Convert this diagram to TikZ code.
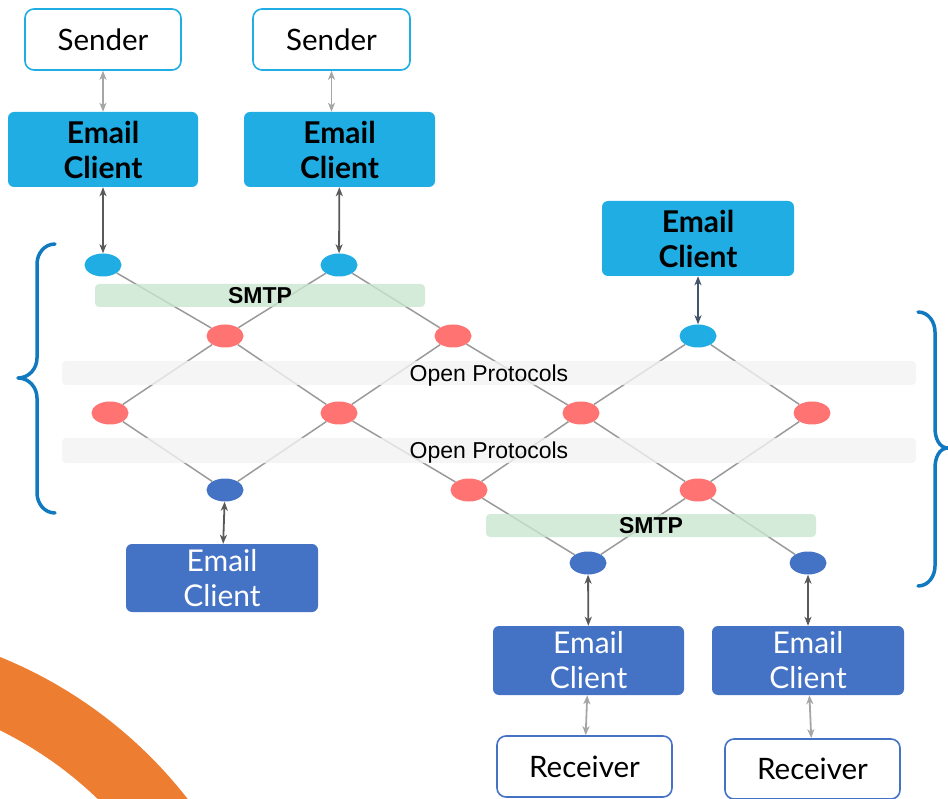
\documentclass[tikz,border=0pt]{standalone}
\usepackage{fontspec}
\setmainfont{Lato}
\newfontfamily\arialfont{Liberation Sans}
\usetikzlibrary{arrows.meta,shapes.geometric}

\definecolor{skyblue}{HTML}{1FADE4}
\definecolor{royal}{HTML}{4472C4}
\definecolor{salmon}{HTML}{FF7373}
\definecolor{mintband}{HTML}{C8E6CE}
\definecolor{greyband}{HTML}{F2F2F2}
\definecolor{edgegrey}{HTML}{9A9A9A}
\definecolor{darklink}{HTML}{595959}
\definecolor{slatelink}{HTML}{44546A}
\definecolor{lightlink}{HTML}{A6A6A6}
\definecolor{bracecol}{HTML}{1079BF}
\definecolor{orangeband}{HTML}{ED7D31}

\pgfdeclarelayer{bg}
\pgfdeclarelayer{mid}
\pgfsetlayers{bg,mid,main}

\tikzset{
  hop/.style={ellipse, minimum width=37pt, minimum height=23pt, inner sep=0pt, draw=none},
  hopsky/.style={hop, fill=skyblue},
  hopred/.style={hop, fill=salmon},
  hoproyal/.style={hop, fill=royal},
  enditem/.style={rounded corners=9pt, fill=white, line width=1.6pt, inner sep=0pt,
    font=\fontsize{29.5}{34}\selectfont},
  clientsky/.style={rounded corners=6pt, fill=skyblue, inner sep=0pt, align=center,
    font=\fontsize{30}{35}\selectfont\bfseries},
  clientroyal/.style={rounded corners=6pt, fill=royal, inner sep=0pt, align=center,
    text=white, font=\fontsize{30}{35}\selectfont},
  band/.style={rounded corners=4pt, inner sep=0pt, fill opacity=0.8, text opacity=1,
    text depth=0pt, font=\arialfont\fontsize{23}{26}\selectfont},
  mesh/.style={draw=edgegrey, line width=1.5pt},
  tip/.tip={Stealth[length=9pt,width=7pt,inset=2.5pt]},
  link/.style={tip-tip, line width=1.8pt},
  brace/.style={draw=bracecol, line width=3.5pt, line cap=round, line join=round}
}

\begin{document}
\begin{tikzpicture}[x=1pt,y=-1pt]
\useasboundingbox (0,0) rectangle (948,799);

% orange ring segment in the lower left corner
\begin{scope}
  \clip (0,0) rectangle (948,799);
  \draw[orangeband, line width=67pt] (-170,1077) circle [radius=419.5pt];
\end{scope}

% end users
\node[enditem, draw=skyblue, minimum width=156pt, minimum height=61pt] (snd1) at (103,39.5) {Sender};
\node[enditem, draw=skyblue, minimum width=157pt, minimum height=61pt] (snd2) at (331.5,39.5) {Sender};
\node[enditem, draw=royal, minimum width=175pt, minimum height=61pt] (rcv1) at (584.5,766.5) {Receiver};
\node[enditem, draw=royal, minimum width=175pt, minimum height=60pt] (rcv2) at (812.5,769) {Receiver};

% email clients
\node[clientsky, minimum width=190pt, minimum height=75pt] (cl1) at (103,149.5) {Email\\Client};
\node[clientsky, minimum width=191pt, minimum height=75pt] (cl2) at (339.5,149.5) {Email\\Client};
\node[clientsky, minimum width=192pt, minimum height=75pt] (cl3) at (698,238.5) {Email\\Client};
\node[clientroyal, minimum width=192pt, minimum height=68pt] (cl4) at (222,578) {Email\\Client};
\node[clientroyal, minimum width=191pt, minimum height=69pt] (cl5) at (588.5,660.5) {Email\\Client};
\node[clientroyal, minimum width=192pt, minimum height=69pt] (cl6) at (808,660.5) {Email\\Client};

% servers
\node[hopsky] (a1) at (103,265) {};
\node[hopsky] (a2) at (339,265) {};
\node[hopred] (b1) at (225,336) {};
\node[hopred] (b2) at (453,336) {};
\node[hopsky] (b3) at (698,336) {};
\node[hopred] (c1) at (110,413) {};
\node[hopred] (c2) at (339,413) {};
\node[hopred] (c3) at (581,413) {};
\node[hopred] (c4) at (812,413) {};
\node[hoproyal] (d1) at (225,490) {};
\node[hopred] (d2) at (469,490) {};
\node[hopred] (d3) at (698,490) {};
\node[hoproyal] (e1) at (588,563) {};
\node[hoproyal] (e2) at (808,563) {};

% protocol bands
\begin{pgfonlayer}{mid}
  \node[band, fill=mintband, minimum width=330pt, minimum height=23pt] (smtp1) at (260,295.5) {\bfseries SMTP};
  \node[band, fill=greyband, minimum width=854pt, minimum height=24pt] (open1) at (489,373) {Open Protocols};
  \node[band, fill=greyband, minimum width=854pt, minimum height=25pt] (open2) at (489,450.5) {Open Protocols};
  \node[band, fill=mintband, minimum width=330pt, minimum height=23pt] (smtp2) at (651,525.5) {\bfseries SMTP};
\end{pgfonlayer}

% server mesh
\begin{pgfonlayer}{bg}
  \foreach \p/\q in {a1/b1, a2/b1, a2/b2, b1/c1, b1/c2, b2/c2, b2/c3, b3/c3, b3/c4,
                     c1/d1, c2/d1, c2/d2, c3/d2, c3/d3, c4/d3, d2/e1, d3/e1, d3/e2}
    \draw[mesh] (\p) -- (\q);
\end{pgfonlayer}

% user to client links
\draw[link, lightlink] (snd1) -- (cl1);
\draw[link, lightlink] (snd2.south) -- (snd2.south |- cl2.north);
\draw[link, lightlink] (cl5) -- (rcv1);
\draw[link, lightlink] (cl6) -- (rcv2);

% client to server links
\draw[link, darklink] (cl1) -- (a1);
\draw[link, darklink] (cl2) -- (a2);
\draw[link, slatelink] (cl3) -- (b3);
\draw[link, darklink] (d1) -- (cl4);
\draw[link, darklink] (e1) -- (cl5);
\draw[link, darklink] (e2) -- (cl6);

% braces around the server mesh
\draw[brace] (55,244) to[out=180,in=90] (37,264) -- (37,358)
  to[out=-90,in=0] (18,378) to[out=0,in=90] (37,398) -- (37,493)
  to[out=-90,in=180] (55,513);
\draw[brace] (918,312) to[out=0,in=90] (935,332) -- (935,428)
  to[out=-90,in=180] (948,448) to[out=180,in=90] (935,468) -- (935,566)
  to[out=-90,in=0] (918,586);
\end{tikzpicture}
\end{document}
